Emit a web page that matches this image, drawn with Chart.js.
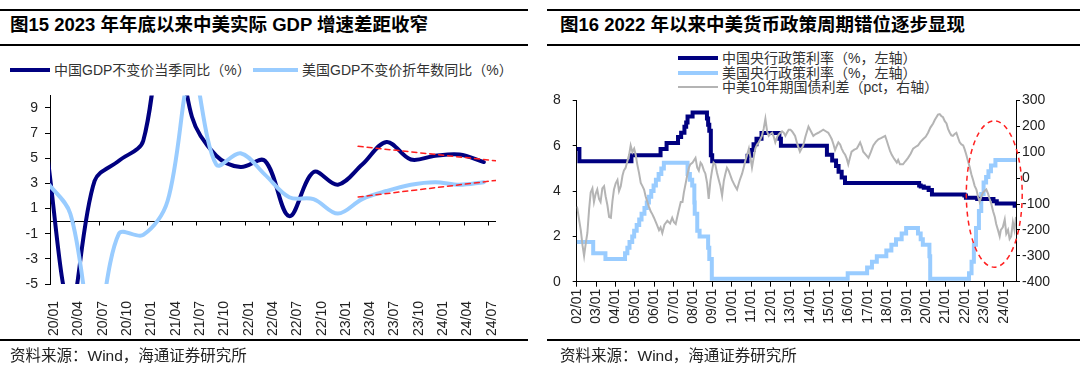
<!DOCTYPE html>
<html lang="zh-CN">
<head>
<meta charset="UTF-8">
<title>图15 / 图16</title>
<script src="https://cdn.jsdelivr.net/npm/chart.js"></script>
<style>
  body {
    margin: 0;
    width: 1080px;
    height: 375px;
    position: relative;
    overflow: hidden;
    background: #fff;
    font-family: "Liberation Sans", "Noto Sans CJK SC", sans-serif;
    color: #000;
  }
  .rule { position: absolute; background: #000; }
  .title { position: absolute; top: 13px; font-size: 18.5px; font-weight: bold; white-space: nowrap; line-height: 24px; }
  .src { position: absolute; top: 346px; font-size: 15.5px; color: #222; white-space: nowrap; line-height: 20px; }
  .legend { position: absolute; font-size: 14px; color: #333; white-space: nowrap; line-height: 16px; }
  .legend i { display: inline-block; vertical-align: middle; margin-right: 4px; position: relative; top: -1px; }
  .box { position: absolute; top: 80px; width: 540px; height: 260px; }
</style>
</head>
<body>
  <!-- 左：图15 -->
  <div class="rule" style="left:0;top:9px;width:528px;height:2px"></div>
  <div class="title" style="left:10px">图15 2023 年年底以来中美实际 GDP 增速差距收窄</div>
  <div class="rule" style="left:0;top:44px;width:528px;height:2px"></div>
  <div class="legend" style="left:10px;top:62px"><i style="width:40px;height:4px;background:#000080"></i>中国GDP不变价当季同比（%）</div>
  <div class="legend" style="left:253px;top:62px"><i style="width:45px;height:4px;background:#99ccff"></i>美国GDP不变价折年数同比（%）</div>
  <div class="box" style="left:0"><canvas id="gdpChart" width="540" height="260"></canvas></div>
  <div class="rule" style="left:0;top:339px;width:528px;height:2px"></div>
  <div class="src" style="left:10px">资料来源：Wind，海通证券研究所</div>

  <!-- 右：图16 -->
  <div class="rule" style="left:547px;top:9px;width:533px;height:2px"></div>
  <div class="title" style="left:560px">图16 2022 年以来中美货币政策周期错位逐步显现</div>
  <div class="rule" style="left:547px;top:44px;width:533px;height:2px"></div>
  <div class="legend" style="left:678px;top:50px"><i style="width:40px;height:4px;background:#000080"></i>中国央行政策利率（%，左轴）</div>
  <div class="legend" style="left:678px;top:65px"><i style="width:40px;height:4px;background:#99ccff"></i>美国央行政策利率（%，左轴）</div>
  <div class="legend" style="left:678px;top:79px"><i style="width:40px;height:2px;background:#b4b4b4"></i>中美10年期国债利差（pct，右轴）</div>
  <div class="box" style="left:540px"><canvas id="policyChart" width="540" height="260"></canvas></div>
  <div class="rule" style="left:547px;top:339px;width:533px;height:2px"></div>
  <div class="src" style="left:560px">资料来源：Wind，海通证券研究所</div>

<script>
// ---------- 图15 数据（季度同比，%） ----------
var gdpQuarters = ['19Q4', '20Q1', '20Q2', '20Q3', '20Q4', '21Q1', '21Q2', '21Q3', '21Q4',
                   '22Q1', '22Q2', '22Q3', '22Q4', '23Q1', '23Q2', '23Q3', '23Q4', '24Q1', '24Q2'];
var chinaGdp = [6.0, -6.9, 3.2, 4.8, 6.4, 18.7, 8.3, 5.2, 4.3, 4.8, 0.4, 3.9, 2.9, 4.5, 6.3, 4.9, 5.2, 5.3, 4.7];
var usGdp = [3.2, 0.6, -9.1, -1.0, -1.1, 1.6, 12.0, 4.5, 5.4, 3.7, 1.9, 1.75, 0.6, 1.75, 2.4, 2.9, 3.1, 2.9, 3.1];
var gdpTickLabels = ['20/01', '20/04', '20/07', '20/10', '21/01', '21/04', '21/07', '21/10', '22/01', '22/04',
                     '22/07', '22/10', '23/01', '23/04', '23/07', '23/10', '24/01', '24/04', '24/07'];
var gdpYTicks = [-5, -3, -1, 1, 3, 5, 7, 9];
// 红色虚线趋势（月序号，0 = 2020/01）
var trendMonths = [37.5, 54.5];
var trendUpper = [5.95, 4.8];
var trendLower = [1.92, 3.24];

// ---------- 图16 数据 ----------
var yearTickLabels = ['02/01', '03/01', '04/01', '05/01', '06/01', '07/01', '08/01', '09/01', '10/01', '11/01', '12/01',
                      '13/01', '14/01', '15/01', '16/01', '17/01', '18/01', '19/01', '20/01', '21/01', '22/01', '23/01', '24/01'];
// 中国：贷款基准利率 / 1年期LPR（%）
var cnRateDates = [2002.00, 2002.14, 2004.82, 2006.32, 2006.63, 2007.22, 2007.38, 2007.55, 2007.64, 2007.71, 2007.97,
                   2008.71, 2008.77, 2008.83, 2008.91, 2008.98, 2010.80, 2010.99, 2011.11, 2011.26, 2011.52,
                   2012.44, 2012.52, 2014.89, 2015.16, 2015.36, 2015.49, 2015.65, 2015.82,
                   2019.64, 2019.72, 2019.88, 2020.13, 2020.30, 2021.97, 2022.05, 2022.63, 2023.47, 2023.64, 2024.56, 2024.63];
var cnRate = [5.85, 5.31, 5.58, 5.85, 6.12, 6.39, 6.57, 6.84, 7.02, 7.29, 7.47,
              7.20, 6.93, 6.66, 5.58, 5.31, 5.56, 5.81, 6.06, 6.31, 6.56,
              6.31, 6.00, 5.60, 5.35, 5.10, 4.85, 4.60, 4.35,
              4.25, 4.20, 4.15, 4.05, 3.85, 3.80, 3.70, 3.65, 3.55, 3.45, 3.35, 3.35];
// 美国：联邦基金目标利率（区间取中值，%）
var usRateDates = [2002.00, 2002.85, 2003.48, 2004.49, 2004.61, 2004.72, 2004.86, 2004.96, 2005.09, 2005.22, 2005.34,
                   2005.49, 2005.61, 2005.72, 2005.84, 2005.96, 2006.08, 2006.22, 2006.36, 2006.49,
                   2007.71, 2007.83, 2007.95, 2008.06, 2008.08, 2008.21, 2008.33, 2008.77, 2008.83, 2008.96,
                   2015.96, 2016.96, 2017.21, 2017.46, 2017.95, 2018.21, 2018.45, 2018.74, 2018.97,
                   2019.58, 2019.72, 2019.83, 2020.17, 2020.21,
                   2022.21, 2022.34, 2022.46, 2022.57, 2022.72, 2022.84, 2022.96, 2023.09, 2023.21, 2023.34, 2023.57, 2024.63];
var usRate = [1.75, 1.25, 1.00, 1.25, 1.50, 1.75, 2.00, 2.25, 2.50, 2.75, 3.00,
              3.25, 3.50, 3.75, 4.00, 4.25, 4.50, 4.75, 5.00, 5.25,
              4.75, 4.50, 4.25, 3.50, 3.00, 2.25, 2.00, 1.50, 1.00, 0.125,
              0.375, 0.625, 0.875, 1.125, 1.375, 1.625, 1.875, 2.125, 2.375,
              2.125, 1.875, 1.625, 1.125, 0.125,
              0.375, 0.875, 1.625, 2.375, 3.125, 3.875, 4.375, 4.625, 4.875, 5.125, 5.375, 5.375];
// 中美10年期国债利差（bp）
var spreadDates = [
  2002.00, 2002.03, 2002.21, 2002.30, 2002.38, 2002.47, 2002.55, 2002.64, 2002.72, 2002.81, 2002.89,
  2002.98, 2003.06, 2003.15, 2003.23, 2003.32, 2003.41, 2003.49, 2003.58, 2003.67, 2003.76, 2003.84,
  2003.92, 2004.01, 2004.10, 2004.18, 2004.27, 2004.36, 2004.43, 2004.52, 2004.61, 2004.70, 2004.78,
  2004.87, 2004.96, 2005.04, 2005.12, 2005.21, 2005.30, 2005.38, 2005.47, 2005.55, 2005.64, 2005.72, 2005.81,
  2005.90, 2005.98, 2006.13, 2006.24, 2006.32, 2006.41, 2006.52, 2006.67,
  2006.81, 2006.92, 2007.01, 2007.10, 2007.24, 2007.36, 2007.45, 2007.52, 2007.68,
  2007.78, 2007.85, 2007.97, 2008.12, 2008.21, 2008.29, 2008.38, 2008.45, 2008.55, 2008.63, 2008.72,
  2008.80, 2008.89, 2008.97, 2009.05, 2009.14, 2009.23, 2009.32, 2009.40, 2009.49, 2009.58, 2009.66,
  2009.74, 2009.83, 2009.92, 2010.00, 2010.15, 2010.26, 2010.39, 2010.52, 2010.60,
  2010.68, 2010.78, 2010.87, 2010.95, 2011.03, 2011.12, 2011.20, 2011.29, 2011.38, 2011.46, 2011.54, 2011.63,
  2011.72, 2011.81, 2011.89, 2011.98, 2012.07, 2012.15, 2012.23, 2012.33, 2012.41, 2012.49, 2012.58,
  2012.67, 2012.75, 2012.83, 2012.92, 2013.01, 2013.10, 2013.25, 2013.37, 2013.50,
  2013.59, 2013.67, 2013.78, 2013.94, 2014.07, 2014.19, 2014.31, 2014.45,
  2014.56, 2014.70, 2014.85, 2014.96, 2015.04, 2015.14, 2015.23, 2015.31, 2015.40, 2015.48,
  2015.57, 2015.65, 2015.74, 2015.83, 2015.91, 2015.99, 2016.08, 2016.16, 2016.30, 2016.43,
  2016.51, 2016.60, 2016.69, 2016.76, 2016.90, 2017.03, 2017.15, 2017.28, 2017.41,
  2017.54, 2017.70, 2017.89, 2017.97, 2018.05, 2018.14, 2018.23, 2018.35,
  2018.49, 2018.56, 2018.65, 2018.81, 2018.93, 2019.07, 2019.21, 2019.33,
  2019.45, 2019.58, 2019.71, 2019.84, 2019.98, 2020.10, 2020.22, 2020.36,
  2020.45, 2020.53, 2020.61, 2020.70, 2020.78, 2020.87, 2020.96, 2021.05, 2021.13, 2021.22, 2021.30,
  2021.38, 2021.47, 2021.56, 2021.65, 2021.73, 2021.82, 2021.91, 2021.99, 2022.07, 2022.16, 2022.25,
  2022.33, 2022.42, 2022.50, 2022.59, 2022.67, 2022.76, 2022.85, 2022.93, 2023.01, 2023.10, 2023.19,
  2023.27, 2023.36, 2023.45, 2023.54, 2023.61, 2023.70, 2023.79, 2023.85,
  2023.95, 2024.05, 2024.13, 2024.22, 2024.30, 2024.38, 2024.47, 2024.55, 2024.63];
var spread = [
  -110, -116, -201, -260, -300, -250, -212, -120, -56, -40, -92,
  -60, -44, -80, -92, -40, -31, -70, -104, -150, -153, -90,
  -44, -20, -7, -50, -31, 10, 29, 40, 65, 90, 126,
  100, 114, 90, 53, 20, -19, -30, -44, -70, -92, -110, -128,
  -140, -153, -180, -201, -190, -212, -180, -165,
  -175, -153, -170, -177, -130, -92, -92, -56, 5,
  40, 53, 60, 78, 40, 29, 60, 53, 30, 17, -20,
  -80, -10, 29, 60, 53, 20, -7, -30, -68, -10, 17,
  40, 29, 10, -7, -30, -44, -10, 17, 40,
  65, 90, 114, 80, 41, 80, 114, 130, 138, 150, 163, 190,
  229, 180, 163, 170, 175, 160, 138, 160, 169, 175, 181,
  175, 163, 175, 187, 187, 180, 163, 130, 102,
  115, 126, 160, 199, 180, 163, 170, 175,
  180, 187, 180, 175, 165, 150, 130, 108, 125, 138,
  130, 114, 100, 90, 75, 53, 80, 102, 110, 114,
  125, 138, 120, 102, 90, 78, 100, 126, 140,
  150, 155, 163, 145, 126, 105, 90, 75,
  60, 70, 53, 53, 65, 78, 95, 114,
  120, 126, 140, 150, 160, 175, 195, 211,
  225, 235, 245, 247, 240, 235, 220, 211, 190, 175, 165,
  163, 170, 175, 155, 138, 130, 126, 110, 90, 65, 41,
  15, -7, -30, -44, -70, -92, -70, -56, -50, -44, -60,
  -80, -100, -128, -150, -177, -200, -225, -200,
  -190, -160, -215, -200, -235, -225, -170, -200, -150];

// ---------- 公共 ----------
var tickFont = { family: '"Liberation Sans", Arial, sans-serif', size: 14 };
var tickColor = '#222';

function toPoints(xs, ys) {
  return xs.map(function(x, i) { return { x: x, y: ys[i] }; });
}

// 2019Q4 = 月序号 -1，之后每季 +3
var gdpMonths = gdpQuarters.map(function(q, i) { return -1 + 3 * i; });

// 零轴及其刻度（刻度位于各季度分隔处）
var zeroAxis = {
  id: 'zeroAxis',
  beforeDatasetsDraw: function(chart) {
    var ctx = chart.ctx, xs = chart.scales.x, ys = chart.scales.y;
    var y0 = Math.round(ys.getPixelForValue(0)) + 0.5;
    ctx.save();
    ctx.strokeStyle = '#000';
    ctx.lineWidth = 1;
    ctx.beginPath();
    ctx.moveTo(chart.chartArea.left, y0);
    ctx.lineTo(chart.chartArea.right, y0);
    for (var k = 1; k < gdpTickLabels.length; k++) {
      var px = Math.round(xs.getPixelForValue(-0.5 + 3 * k)) + 0.5;
      ctx.moveTo(px, y0);
      ctx.lineTo(px, y0 + 4);
    }
    ctx.stroke();
    ctx.restore();
  }
};

new Chart(document.getElementById('gdpChart'), {
  type: 'line',
  data: {
    datasets: [
      { label: 'trendUpper', data: toPoints(trendMonths, trendUpper), borderColor: '#ff2020', borderWidth: 1.5,
        borderDash: [5, 4], tension: 0, pointRadius: 0 },
      { label: 'trendLower', data: toPoints(trendMonths, trendLower), borderColor: '#ff2020', borderWidth: 1.5,
        borderDash: [5, 4], tension: 0, pointRadius: 0 },
      { label: '美国GDP不变价折年数同比（%）', data: toPoints(gdpMonths, usGdp), borderColor: '#99ccff',
        borderWidth: 4, tension: 0.35, pointRadius: 0 },
      { label: '中国GDP不变价当季同比（%）', data: toPoints(gdpMonths, chinaGdp), borderColor: '#000080',
        borderWidth: 4, tension: 0.35, pointRadius: 0 }
    ]
  },
  options: {
    responsive: false,
    animation: false,
    layout: { padding: { left: 0, top: 14.4, right: 44, bottom: 0 } },
    elements: { line: { capBezierPoints: false, borderCapStyle: 'round' } },
    plugins: { legend: { display: false }, tooltip: { enabled: false } },
    scales: {
      x: {
        type: 'linear', min: -0.5, max: 54.5,
        afterBuildTicks: function(s) { s.ticks = gdpTickLabels.map(function(l, i) { return { value: i * 3 }; }); },
        afterFit: function(s) { s.height = 56; },
        grid: { display: false },
        border: { display: false },
        ticks: {
          autoSkip: false, minRotation: 90, maxRotation: 90, padding: 9,
          font: tickFont, color: tickColor,
          callback: function(v) { return gdpTickLabels[Math.round(v / 3)]; }
        }
      },
      y: {
        min: -5, max: 10,
        afterBuildTicks: function(s) { s.ticks = gdpYTicks.map(function(v) { return { value: v }; }); },
        afterFit: function(s) { s.width = 50; },
        grid: { drawOnChartArea: false, tickLength: 5, color: '#000' },
        border: { color: '#000' },
        ticks: { padding: 7, font: tickFont, color: tickColor }
      }
    }
  },
  plugins: [zeroAxis]
});

// 右图红色虚线椭圆标注
var noteCenter = [2023.51, 3.87];
var noteRadius = [1.44, 3.23];
var ellipseNote = {
  id: 'ellipseNote',
  afterDatasetsDraw: function(chart) {
    var ctx = chart.ctx, xs = chart.scales.x, ys = chart.scales.y;
    var cx = xs.getPixelForValue(noteCenter[0]), cy = ys.getPixelForValue(noteCenter[1]);
    var rx = xs.getPixelForValue(noteCenter[0] + noteRadius[0]) - cx;
    var ry = cy - ys.getPixelForValue(noteCenter[1] + noteRadius[1]);
    ctx.save();
    ctx.strokeStyle = '#ff2020';
    ctx.lineWidth = 1.5;
    ctx.setLineDash([5, 4]);
    ctx.beginPath();
    ctx.ellipse(cx, cy, rx, ry, 0, 0, 2 * Math.PI);
    ctx.stroke();
    ctx.restore();
  }
};

new Chart(document.getElementById('policyChart'), {
  type: 'line',
  data: {
    datasets: [
      { label: '中美10年期国债利差（pct，右轴）', data: toPoints(spreadDates, spread), yAxisID: 'y2',
        borderColor: '#b4b4b4', borderWidth: 2, tension: 0, pointRadius: 0 },
      { label: '中国央行政策利率（%，左轴）', data: toPoints(cnRateDates, cnRate), yAxisID: 'y',
        borderColor: '#000080', borderWidth: 4, stepped: true, pointRadius: 0 },
      { label: '美国央行政策利率（%，左轴）', data: toPoints(usRateDates, usRate), yAxisID: 'y',
        borderColor: '#99ccff', borderWidth: 4, stepped: true, pointRadius: 0 }
    ]
  },
  options: {
    responsive: false,
    animation: false,
    layout: { padding: { left: 0, top: 10, right: 19, bottom: 0 } },
    plugins: { legend: { display: false }, tooltip: { enabled: false } },
    scales: {
      x: {
        type: 'linear', min: 2002, max: 2024.63,
        afterBuildTicks: function(s) { s.ticks = yearTickLabels.map(function(l, i) { return { value: 2002 + i }; }); },
        afterFit: function(s) { s.height = 58.3; },
        grid: { drawOnChartArea: false, tickLength: 5, color: '#000' },
        border: { color: '#000' },
        ticks: {
          autoSkip: false, minRotation: 90, maxRotation: 90, padding: 2,
          font: tickFont, color: tickColor,
          callback: function(v) { return yearTickLabels[Math.round(v - 2002)]; }
        }
      },
      y: {
        position: 'left', min: 0, max: 8,
        ticks: { stepSize: 2, padding: 12, font: tickFont, color: tickColor },
        afterFit: function(s) { s.width = 36.7; },
        grid: { drawOnChartArea: false, tickLength: 4, color: '#000' },
        border: { color: '#000' }
      },
      y2: {
        position: 'right', min: -400, max: 300,
        ticks: { stepSize: 100, padding: 2, font: tickFont, color: tickColor },
        afterFit: function(s) { s.width = 45; },
        grid: { drawOnChartArea: false, tickLength: 4, color: '#000' },
        border: { color: '#000' }
      }
    }
  },
  plugins: [ellipseNote]
});
</script>
</body>
</html>
